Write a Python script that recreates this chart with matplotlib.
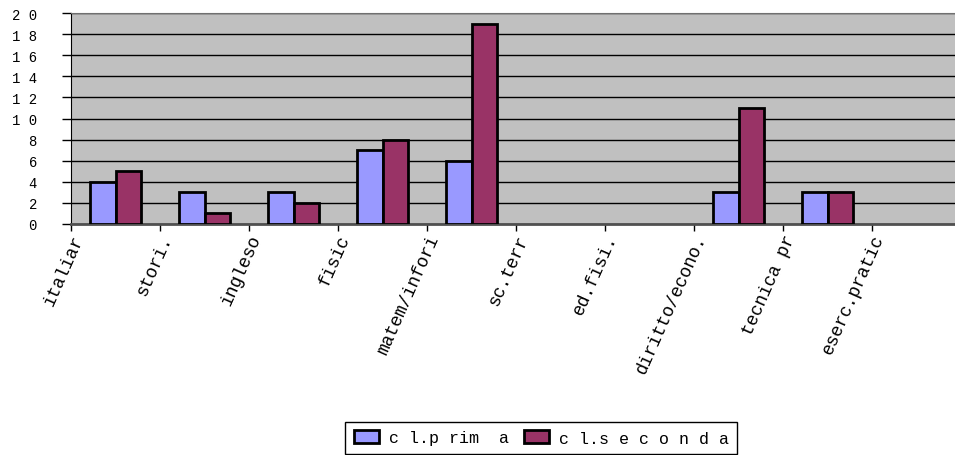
import numpy as np
import matplotlib
matplotlib.use("Agg")
import matplotlib.pyplot as plt
import matplotlib.transforms as mtransforms

# Dati (etichette come appaiono, troncate)
materie = ["italiar", "stori.", "ingleso", "fisic", "matem/infori",
           "sc.terr", "ed.fisi.", "diritto/econo.", "tecnica pr", "eserc.pratic"]
cl_prima = [4, 3, 3, 7, 6, 0, 0, 3, 3, 0]
cl_seconda = [5, 1, 2, 8, 19, 0, 0, 11, 3, 0]
y_ticks = [0, 2, 4, 6, 8, 10, 12, 14, 16, 18, 20]
y_labels = ["0", "2", "4", "6", "8", "1 0", "1 2", "1 4", "1 6", "1 8", "2 0"]
legenda = ["c l.p rim  a", "c l.s e c o n d a"]

mono = "Liberation Mono"

fig = plt.figure(figsize=(9.55, 4.56), dpi=100)
ax = fig.add_axes([71 / 955, 1 - 225 / 456, 890 / 955, 211 / 456])
ax.set_facecolor("#C0C0C0")

x = np.arange(len(materie))
w = 0.29
b1 = ax.bar(x - w / 2, cl_prima, w, color="#9999FF", edgecolor="black",
            linewidth=2, label=legenda[0], zorder=3)
b2 = ax.bar(x + w / 2, cl_seconda, w, color="#993366", edgecolor="black",
            linewidth=2, label=legenda[1], zorder=3)
# le barre a zero non si vedono
for bars, vals in ((b1, cl_prima), (b2, cl_seconda)):
    for r, v in zip(bars, vals):
        if v == 0:
            r.set_visible(False)

ax.set_xlim(-0.5, len(materie) - 0.5)
ax.set_ylim(0, 20)
ax.set_yticks(y_ticks)
ax.set_yticklabels(y_labels, fontfamily=mono, fontsize=10)
ax.yaxis.grid(True, color="black", linewidth=1, zorder=1)
ax.set_axisbelow(True)
ax.tick_params(axis="y", direction="out", length=6.5, width=1, pad=18)

# tacche tra le categorie
ax.set_xticks(np.arange(len(materie) + 1) - 0.5)
ax.set_xticklabels([])
ax.tick_params(axis="x", direction="out", length=5, width=1)

ax.spines["right"].set_visible(False)
ax.spines["top"].set_color("#707070")
ax.spines["bottom"].set_color("#505050")
ax.spines["bottom"].set_linewidth(2)
ax.spines["left"].set_color("black")

# etichette ruotate
offset = mtransforms.ScaledTranslation(8 / 100, -11 / 100, fig.dpi_scale_trans)
for i, lab in enumerate(materie):
    ax.text(i - 0.5, 0, lab, rotation=66, rotation_mode="anchor",
            ha="right", va="center", fontfamily=mono, fontsize=13,
            transform=ax.transData + offset, clip_on=False)

fig.legend(loc="upper center", bbox_to_anchor=(541 / 955, 1 - 423 / 456), ncol=2,
           prop={"family": mono, "size": 12}, frameon=True, fancybox=False,
           edgecolor="black", framealpha=1, handlelength=1.5,
           handleheight=0.8, borderpad=0.5, columnspacing=0.9,
           handletextpad=0.6, borderaxespad=0)

fig.savefig("out.png", dpi=100)
